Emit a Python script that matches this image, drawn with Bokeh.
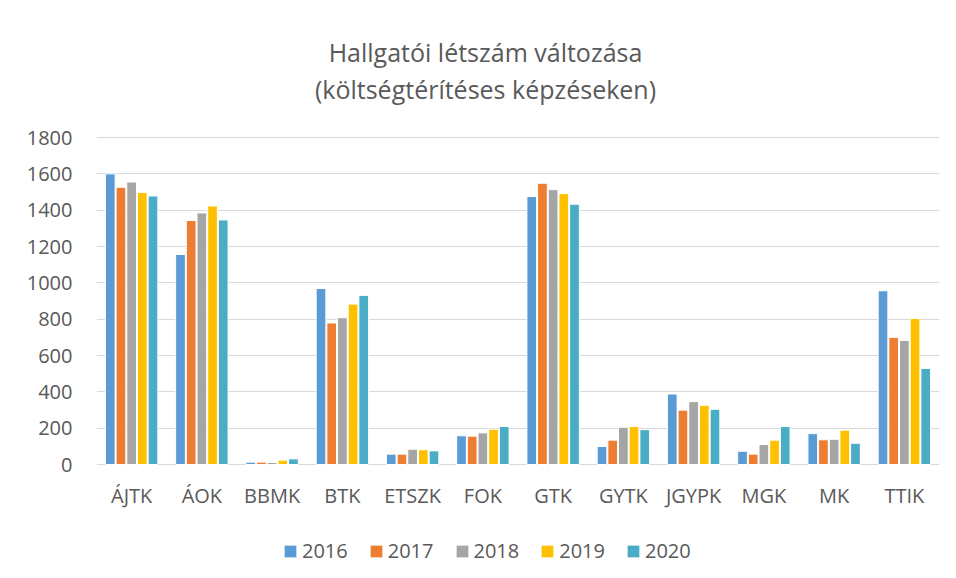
from bokeh.plotting import figure
from bokeh.models import Range1d, Label, Legend, LegendItem, FixedTicker
from bokeh.core.properties import value
from bokeh.transform import dodge
from bokeh.embed import file_html
from bokeh.resources import INLINE
from bokeh.models import ColumnDataSource

cats = ["ÁJTK", "ÁOK", "BBMK", "BTK", "ETSZK", "FOK", "GTK", "GYTK", "JGYPK", "MGK", "MK", "TTIK"]
years = ["2016", "2017", "2018", "2019", "2020"]
y2016 = [1600, 1156, 13, 969, 57, 158, 1475, 99, 388, 73, 170, 956]
y2017 = [1526, 1343, 13, 779, 57, 156, 1548, 134, 299, 57, 136, 700]
y2018 = [1555, 1385, 11, 808, 84, 174, 1513, 205, 346, 110, 139, 683]
y2019 = [1497, 1423, 24, 883, 81, 194, 1491, 209, 326, 134, 189, 804]
y2020 = [1478, 1346, 31, 931, 75, 209, 1433, 192, 304, 209, 117, 529]
y_ticks = [0, 200, 400, 600, 800, 1000, 1200, 1400, 1600, 1800]
colors = ["#5B9BD5", "#ED7D31", "#A5A5A5", "#FFC000", "#4BACC6"]
title_lines = ["Hallgatói létszám változása", "(költségtérítéses képzéseken)"]

src = ColumnDataSource(dict(cat=cats, y2016=y2016, y2017=y2017, y2018=y2018,
                            y2019=y2019, y2020=y2020, base=[y_ticks[0]] * len(cats)))

FONT = "Open Sans"
TXT = "#595959"

# layout (pixels): the frame spans the whole height; value axis 0..1800 occupies 327 px
FRAME_H = 578
PLOT_TOP = 137
PLOT_BOTTOM = 464
per_px = y_ticks[-1] / (PLOT_BOTTOM - PLOT_TOP)
y_end = y_ticks[-1] + PLOT_TOP * per_px
y_start = -(FRAME_H - PLOT_BOTTOM) * per_px

p = figure(x_range=cats, y_range=Range1d(y_start, y_end), frame_width=843, frame_height=FRAME_H,
           output_backend="svg", toolbar_location=None,
           min_border_left=96, min_border_right=10, min_border_top=0, min_border_bottom=0)
p.title = None
p.outline_line_color = None
p.background_fill_color = "white"
p.border_fill_color = "white"

step = 0.152
cols = ["y2016", "y2017", "y2018", "y2019", "y2020"]
items = []
for i, (c, col, yr) in enumerate(zip(cols, colors, years)):
    r = p.vbar(x=dodge("cat", (i - 2) * step, range=p.x_range), top=c, bottom="base", width=0.138,
               source=src, fill_color=col, line_color="white", line_width=1)
    items.append(LegendItem(label=yr, renderers=[r]))

# category labels under the baseline
p.text(x="cat", y="base", text="cat", source=src, y_offset=31,
       text_align="center", text_baseline="middle",
       text_font=value(FONT), text_font_size=value("20px"), text_color=TXT)

p.yaxis.ticker = FixedTicker(ticks=y_ticks)
p.yaxis.axis_line_color = None
p.yaxis.major_tick_line_color = None
p.yaxis.minor_tick_line_color = None
p.yaxis.major_label_text_font = FONT
p.yaxis.major_label_text_font_size = "20px"
p.yaxis.major_label_text_color = TXT
p.yaxis.major_label_standoff = 18

p.xaxis.visible = False
p.xgrid.grid_line_color = None
p.ygrid.grid_line_color = "#D9D9D9"
p.ygrid.grid_line_width = 1

legend = Legend(items=items, orientation="horizontal", location=(186, 14),
                border_line_color=None, background_fill_alpha=0,
                glyph_width=16, glyph_height=16, label_standoff=4, spacing=20,
                padding=0, margin=0,
                label_text_font=FONT, label_text_font_size="20px", label_text_color=TXT)
p.add_layout(legend, "center")

for txt, yy in zip(title_lines, [FRAME_H - 51, FRAME_H - 88]):
    p.add_layout(Label(x=389, y=yy, x_units="screen", y_units="screen", text=txt,
                       text_align="center", text_baseline="middle",
                       text_font=FONT, text_font_size="25px", text_color=TXT))

open("out.html", "w").write(file_html(p, INLINE))
